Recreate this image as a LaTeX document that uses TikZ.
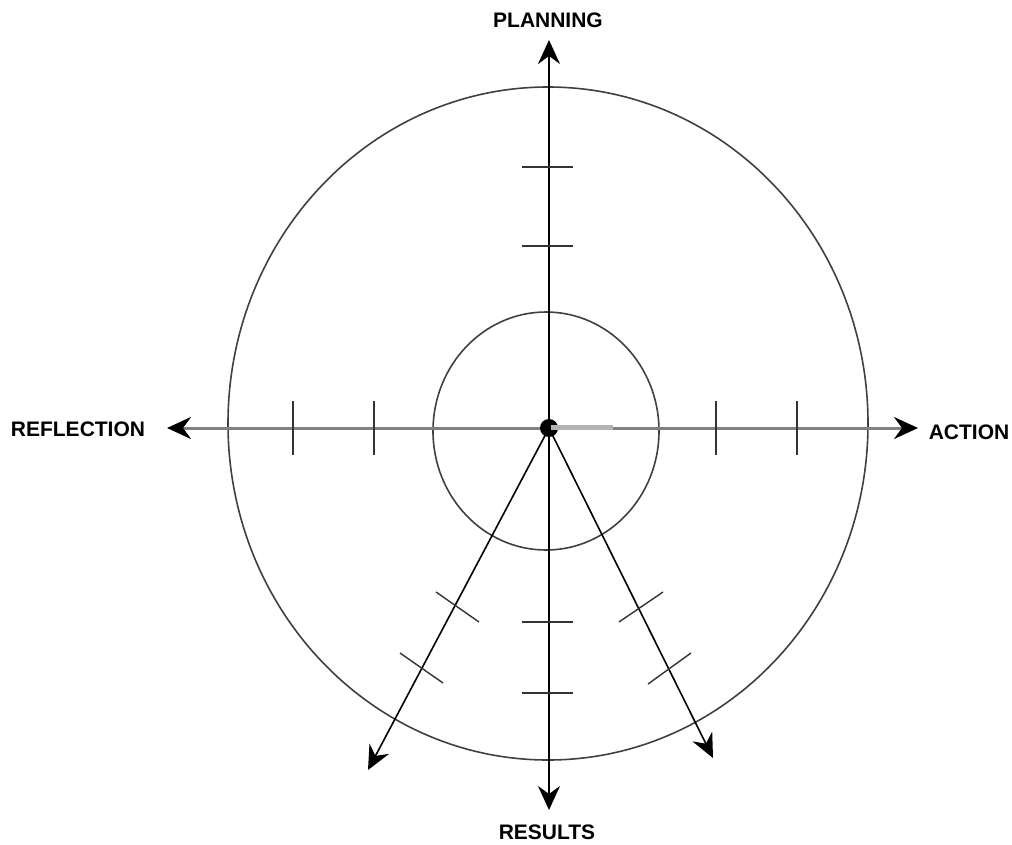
\documentclass[tikz,border=0pt]{standalone}
\usepackage{fontspec}
\setmainfont{Liberation Sans}
\usetikzlibrary{arrows.meta}
\begin{document}
\begin{tikzpicture}[x=1pt,y=-1pt,
  tip/.style={-{Stealth[length=24pt,width=22pt,inset=8pt,color=black]}},
  axis/.style={line width=1.8pt,tip},
  hax/.style={tip,draw=black!50,line width=3pt},
  tick/.style={line width=2.2pt,draw=black!80},
  dtick/.style={line width=1.4pt,draw=black!80},
  ring/.style={line width=1.6pt,draw=black!75},
  lbl/.style={font=\fontsize{21}{23}\selectfont\bfseries,inner sep=0pt}]
\useasboundingbox (0,0) rectangle (1012,844);
\coordinate (c) at (549,428);
\coordinate (tN) at (549,40);
\coordinate (tS) at (549,810);
\coordinate (tW) at (167,428);
\coordinate (tE) at (918,428);
\coordinate (tSW) at (368,770);
\coordinate (tSE) at (713,758);
% rings
\draw[ring] (548,423.5) ellipse [x radius=320,y radius=336.5];
\draw[ring] (546,431) ellipse [x radius=113,y radius=119];
% axes
\draw[hax] (c) -- (tW);
\draw[hax] (c) -- (tE);
\draw[axis] (c) -- (tN);
\draw[axis] (c) -- (tS);
\draw[axis,line width=1.6pt] (c) -- (tSW);
\draw[axis,line width=1.6pt] (c) -- (tSE);
% ticks vertical
\foreach \y in {167,246,622,693} \draw[tick] (522,\y) -- (573,\y);
% ticks horizontal
\foreach \x in {293,374,716,797} \draw[tick] (\x,401) -- (\x,455);
% diagonal ticks
\draw[dtick] (436,592) -- (479,622);
\draw[dtick] (400,653) -- (443,683);
\draw[dtick] (619,622) -- (663,592);
\draw[dtick] (648,684) -- (691,653);
% center
\fill (c) circle (9);
\draw[line width=5pt,draw=black!30] (551,427) -- (613,427);
% labels
\node[lbl] (planning) at (548,20) {PLANNING};
\node[lbl] (results) at (547,832) {RESULTS};
\node[lbl] (reflection) at (78,429) {REFLECTION};
\node[lbl] (action) at (969,432) {ACTION};
\end{tikzpicture}
\end{document}
